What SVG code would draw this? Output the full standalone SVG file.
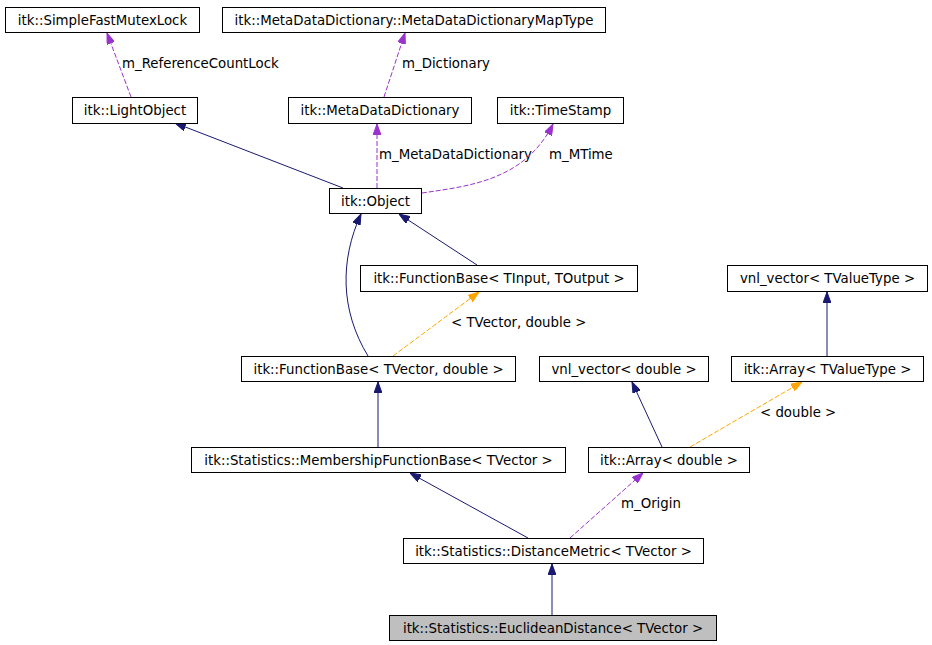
<svg xmlns="http://www.w3.org/2000/svg" width="932" height="645" viewBox="0 0 932 645">
<style>
.box{fill:#fff;stroke:#000;stroke-width:1}
.hl{fill:#bfbfbf}
text{font-family:"DejaVu Sans","Liberation Sans",sans-serif;font-size:13.33px;fill:#000}
.n text{text-anchor:middle}
.inh{fill:none;stroke:#191970;stroke-width:1}
.use{fill:none;stroke:#9a32cd;stroke-width:1;stroke-dasharray:5,2}
.tpl{fill:none;stroke:#ffa500;stroke-width:1;stroke-dasharray:5,2}
</style>
<defs>
<marker id="aN" viewBox="0 0 11 8" refX="11" refY="4" markerWidth="11" markerHeight="8" markerUnits="userSpaceOnUse" orient="auto"><path d="M0,0 L11,4 L0,8 z" fill="#191970" stroke="#191970"/></marker>
<marker id="aP" viewBox="0 0 11 8" refX="11" refY="4" markerWidth="11" markerHeight="8" markerUnits="userSpaceOnUse" orient="auto"><path d="M0,0 L11,4 L0,8 z" fill="#9a32cd" stroke="#9a32cd"/></marker>
<marker id="aO" viewBox="0 0 11 8" refX="11" refY="4" markerWidth="11" markerHeight="8" markerUnits="userSpaceOnUse" orient="auto"><path d="M0,0 L11,4 L0,8 z" fill="#ffa500" stroke="#ffa500"/></marker>
</defs>
<rect width="932" height="645" fill="#fff"/>
<g id="edges">
<path class="use" d="M131,97 L107,33" marker-end="url(#aP)"/>
<text x="122" y="68">m_ReferenceCountLock</text>
<path class="use" d="M384,97 L405,33" marker-end="url(#aP)"/>
<text x="402" y="68">m_Dictionary</text>
<path class="inh" d="M343,188 L175,123" marker-end="url(#aN)"/>
<path class="use" d="M377,188 L377,124" marker-end="url(#aP)"/>
<text x="379" y="159">m_MetaDataDictionary</text>
<path class="use" d="M422,193 C470,186 525,180 553,124" marker-end="url(#aP)"/>
<text x="549" y="159">m_MTime</text>
<path class="inh" d="M477,265 L399,214" marker-end="url(#aN)"/>
<path class="inh" d="M368,356 C340,310 340,260 361,214" marker-end="url(#aN)"/>
<path class="tpl" d="M393,356 L479,292" marker-end="url(#aO)"/>
<text x="451" y="327">&lt; TVector, double &gt;</text>
<path class="inh" d="M827,356 L827,292" marker-end="url(#aN)"/>
<path class="inh" d="M378,447 L378,382" marker-end="url(#aN)"/>
<path class="inh" d="M662,447 L632,382" marker-end="url(#aN)"/>
<path class="tpl" d="M690,447 L802,382" marker-end="url(#aO)"/>
<text x="760" y="417">&lt; double &gt;</text>
<path class="inh" d="M528,538 L410,473" marker-end="url(#aN)"/>
<path class="use" d="M570,538 L643,473" marker-end="url(#aP)"/>
<text x="621" y="508">m_Origin</text>
<path class="inh" d="M552,615 L552,564" marker-end="url(#aN)"/>
</g>
<g id="n_SimpleFastMutexLock" class="n"><rect class="box" x="5.5" y="7.5" width="194" height="25"/><text x="102.5" y="24.5">itk::SimpleFastMutexLock</text></g>
<g id="n_MapType" class="n"><rect class="box" x="222.5" y="7.5" width="383" height="25"/><text x="414" y="24.5">itk::MetaDataDictionary::MetaDataDictionaryMapType</text></g>
<g id="n_LightObject" class="n"><rect class="box" x="72.5" y="97.5" width="125" height="26"/><text x="135" y="115">itk::LightObject</text></g>
<g id="n_MetaDataDictionary" class="n"><rect class="box" x="288.5" y="97.5" width="183" height="26"/><text x="380" y="115">itk::MetaDataDictionary</text></g>
<g id="n_TimeStamp" class="n"><rect class="box" x="497.5" y="97.5" width="126" height="26"/><text x="560.5" y="115">itk::TimeStamp</text></g>
<g id="n_Object" class="n"><rect class="box" x="329.5" y="188.5" width="92" height="25"/><text x="375.5" y="205.5">itk::Object</text></g>
<g id="n_FunctionBaseTT" class="n"><rect class="box" x="360.5" y="265.5" width="277" height="26"/><text x="499" y="283">itk::FunctionBase&lt; TInput, TOutput &gt;</text></g>
<g id="n_vnlTValueType" class="n"><rect class="box" x="727.5" y="265.5" width="200" height="26"/><text x="827.5" y="283">vnl_vector&lt; TValueType &gt;</text></g>
<g id="n_FunctionBaseVD" class="n"><rect class="box" x="241.5" y="356.5" width="274" height="25"/><text x="378.5" y="373.5">itk::FunctionBase&lt; TVector, double &gt;</text></g>
<g id="n_vnlDouble" class="n"><rect class="box" x="539.5" y="356.5" width="169" height="25"/><text x="624" y="373.5">vnl_vector&lt; double &gt;</text></g>
<g id="n_ArrayTValueType" class="n"><rect class="box" x="731.5" y="356.5" width="192" height="25"/><text x="827.5" y="373.5">itk::Array&lt; TValueType &gt;</text></g>
<g id="n_Membership" class="n"><rect class="box" x="191.5" y="447.5" width="374" height="25"/><text x="378.5" y="464.5">itk::Statistics::MembershipFunctionBase&lt; TVector &gt;</text></g>
<g id="n_ArrayDouble" class="n"><rect class="box" x="588.5" y="447.5" width="161" height="25"/><text x="669" y="464.5">itk::Array&lt; double &gt;</text></g>
<g id="n_DistanceMetric" class="n"><rect class="box" x="403.5" y="538.5" width="300" height="25"/><text x="553.5" y="555.5">itk::Statistics::DistanceMetric&lt; TVector &gt;</text></g>
<g id="n_Euclidean" class="n"><rect class="box hl" x="389.5" y="615.5" width="327" height="25"/><text x="553" y="632.5">itk::Statistics::EuclideanDistance&lt; TVector &gt;</text></g>
</svg>
